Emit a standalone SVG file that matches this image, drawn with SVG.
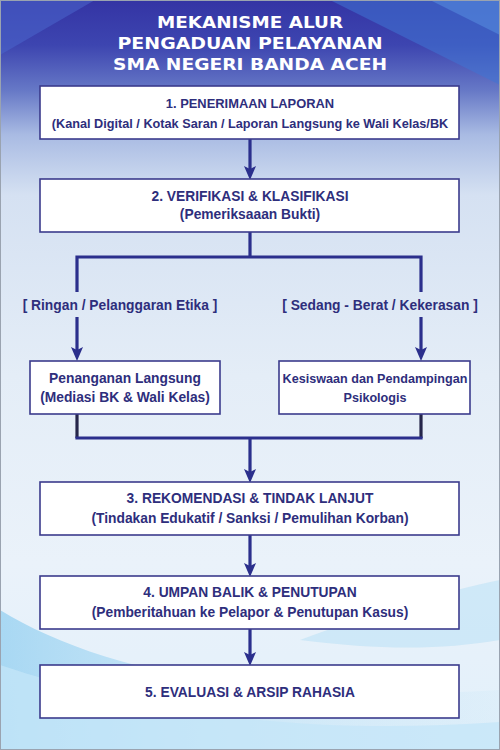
<svg xmlns="http://www.w3.org/2000/svg" width="500" height="750" viewBox="0 0 500 750">
<defs>
<linearGradient id="bg" x1="0" y1="0" x2="0" y2="1">
<stop offset="0" stop-color="#3434a4"/>
<stop offset="0.06" stop-color="#3d45b0"/>
<stop offset="0.12" stop-color="#6678c6"/>
<stop offset="0.18" stop-color="#a9bbe3"/>
<stop offset="0.26" stop-color="#d5e1f2"/>
<stop offset="0.5" stop-color="#e4edf7"/>
<stop offset="0.75" stop-color="#eaf2fa"/>
<stop offset="1" stop-color="#e2f0fa"/>
</linearGradient>
<linearGradient id="swoosh" x1="0" y1="0" x2="1" y2="0">
<stop offset="0" stop-color="#7cc6ee" stop-opacity="0.9"/>
<stop offset="0.5" stop-color="#a8daf4" stop-opacity="0.6"/>
<stop offset="1" stop-color="#c6e6f8" stop-opacity="0.3"/>
</linearGradient>
<marker id="arr" markerUnits="userSpaceOnUse" markerWidth="14" markerHeight="12" viewBox="0 0 14 12" refX="3" refY="6" orient="auto">
<path d="M0,0 L14,6 L0,12 L3,6 z" fill="#2b2f8c"/>
</marker>
</defs>
<style>
.box{fill:#ffffff;stroke:#3b3b8c;stroke-width:1.6}
.t{font-family:"Liberation Sans",Arial,sans-serif;font-weight:bold;fill:#2e2e7c;text-anchor:middle;font-size:13.8px}
.s1{font-size:12.9px}
.s2{font-size:12.7px}
.s3{font-size:12.6px}
.h{font-family:"DejaVu Sans","Liberation Sans",sans-serif;font-weight:bold;fill:#ffffff;text-anchor:middle;font-size:16.5px}
.ln{fill:none;stroke:#2b2f8c;stroke-width:3.2}
.dk{fill:none;stroke:#26264a;stroke-width:3.2}
</style>
<rect x="0" y="0" width="500" height="750" fill="url(#bg)"/>
<polygon points="0,0 95,0 0,55" fill="#4a66cc" opacity="0.55"/>
<polygon points="330,0 500,0 500,85" fill="#3f74d4" opacity="0.55"/>
<polygon points="430,0 500,0 500,35" fill="#5a94e4" opacity="0.5"/>
<path d="M0,610 C90,665 240,705 500,690 L500,750 L0,750 Z" fill="url(#swoosh)" opacity="0.65"/>
<path d="M0,665 C120,705 280,738 500,722 L500,750 L0,750 Z" fill="#c4e6f8" opacity="0.75"/>
<path d="M300,640 C380,610 450,590 500,580 L500,640 C440,650 380,650 300,640 Z" fill="#b6dff5" opacity="0.5"/>
<rect x="0.5" y="0.5" width="499" height="749" fill="none" stroke="#9aa3b0" stroke-width="1"/>

<g id="title">
<text class="h" x="250" y="28" textLength="186" lengthAdjust="spacingAndGlyphs">MEKANISME ALUR</text>
<text class="h" x="250" y="49" textLength="265" lengthAdjust="spacingAndGlyphs">PENGADUAN PELAYANAN</text>
<text class="h" x="250" y="70" textLength="274" lengthAdjust="spacingAndGlyphs">SMA NEGERI BANDA ACEH</text>
</g>

<g id="connectors">
<line class="ln" x1="250" y1="139" x2="250" y2="169" marker-end="url(#arr)"/>
<polyline class="ln" points="250,232 250,257"/>
<polyline class="ln" points="77,292 77,257 421,257 421,292"/>
<line class="ln" x1="77" y1="317" x2="77" y2="350" marker-end="url(#arr)"/>
<line class="ln" x1="421" y1="317" x2="421" y2="350" marker-end="url(#arr)"/>
<line class="dk" x1="77" y1="414" x2="77" y2="438"/>
<line class="dk" x1="421" y1="414" x2="421" y2="438"/>
<line class="ln" x1="75.4" y1="438" x2="422.6" y2="438"/>
<line class="ln" x1="250" y1="438" x2="250" y2="472" marker-end="url(#arr)"/>
<line class="ln" x1="250" y1="535" x2="250" y2="566" marker-end="url(#arr)"/>
<line class="ln" x1="250" y1="629" x2="250" y2="655" marker-end="url(#arr)"/>
<text class="t" x="120" y="310">[ Ringan / Pelanggaran Etika ]</text>
<text class="t" x="380" y="310">[ Sedang - Berat / Kekerasan ]</text>
</g>

<g id="n1">
<rect class="box" x="40" y="86" width="419" height="53"/>
<text class="t s1" x="250" y="108">1. PENERIMAAN LAPORAN</text>
<text class="t s2" x="250" y="128">(Kanal Digital / Kotak Saran / Laporan Langsung ke Wali Kelas/BK</text>
</g>

<g id="n2">
<rect class="box" x="40" y="179" width="419" height="53"/>
<text class="t" x="250" y="201">2. VERIFIKASI &amp; KLASIFIKASI</text>
<text class="t" x="250" y="219">(Pemeriksaaan Bukti)</text>
</g>

<g id="n2a">
<rect class="box" x="30" y="361" width="190" height="53"/>
<text class="t" x="125" y="383">Penanganan Langsung</text>
<text class="t" x="125" y="402">(Mediasi BK &amp; Wali Kelas)</text>
</g>

<g id="n2b">
<rect class="box" x="279" y="361" width="191" height="53"/>
<text class="t s3" x="375" y="383">Kesiswaan dan Pendampingan</text>
<text class="t s3" x="375" y="402">Psikologis</text>
</g>

<g id="n3">
<rect class="box" x="40" y="482" width="419" height="53"/>
<text class="t" x="250" y="503">3. REKOMENDASI &amp; TINDAK LANJUT</text>
<text class="t" x="250" y="523">(Tindakan Edukatif / Sanksi / Pemulihan Korban)</text>
</g>

<g id="n4">
<rect class="box" x="40" y="576" width="419" height="53"/>
<text class="t" x="250" y="597">4. UMPAN BALIK &amp; PENUTUPAN</text>
<text class="t" x="250" y="617">(Pemberitahuan ke Pelapor &amp; Penutupan Kasus)</text>
</g>

<g id="n5">
<rect class="box" x="40" y="665" width="419" height="53"/>
<text class="t" x="250" y="697">5. EVALUASI &amp; ARSIP RAHASIA</text>
</g>
</svg>
